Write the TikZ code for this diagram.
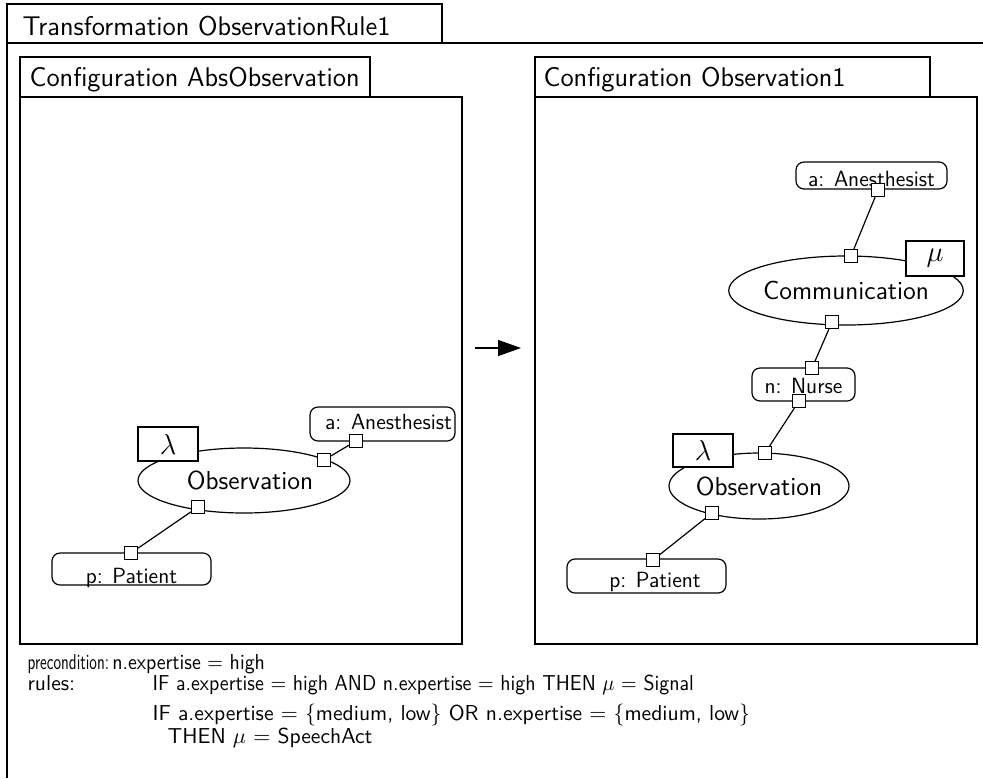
\documentclass[tikz,border=0pt]{standalone}
\usetikzlibrary{shapes.geometric,arrows.meta}
\renewcommand{\familydefault}{\sfdefault}
\begin{document}
\begin{tikzpicture}[x=0.5pt, y=-0.5pt, line width=0.6pt,
    frametitle/.style={anchor=base west, inner sep=0pt, font=\fontsize{13.5}{16}\selectfont},
    activity/.style={draw, ellipse, inner sep=0pt, fill=white, font=\fontsize{13}{15}\selectfont},
    role/.style={draw, rectangle, inner sep=0pt, fill=white, font=\fontsize{14}{16}\selectfont},
    instance/.style={draw, rounded corners=4pt, inner sep=0pt, fill=white, text depth=0pt, font=\fontsize{11}{13}\selectfont},
    port/.style={draw, fill=white, inner sep=0pt, minimum size=6.5pt},
    ruletext/.style={anchor=base west, inner sep=0pt, font=\fontsize{10.8}{13}\selectfont}]
  \useasboundingbox (0,0) rectangle (983,778);

  % 变换外框
  \draw (7,778) -- (7,4) -- (442,4) -- (442,43);
  \draw (7,43) -- (983,43);
  \node[frametitle] (trtitle) at (22,35) {Transformation ObservationRule1};

  % 左配置 AbsObservation
  \draw (20,57) rectangle (370,97);
  \draw (20,97) rectangle (462,644);
  \node[frametitle] (abstitle) at (29,86) {Configuration AbsObservation};

  \node[activity, minimum width=106pt, minimum height=32.5pt] (obsA) at (244,480.5) {\hspace{6pt}Observation};
  \node[role, minimum width=30pt, minimum height=17pt] (lamA) at (168,444) {$\lambda$};
  \node[instance, minimum width=72.5pt, minimum height=17pt, text height=5pt] (anA) at (382.5,424) {\hspace{6pt}a: Anesthesist};
  \node[instance, minimum width=79.5pt, minimum height=16pt, text height=14pt] (patA) at (131.5,569) {p: Patient};

  \node[port] (obsAr) at (324,460) {};
  \node[port] (anAb) at (356,441) {};
  \node[port] (obsAb) at (198,507) {};
  \node[port] (patAt) at (131,553) {};
  \draw (obsAr) -- (anAb);
  \draw (obsAb) -- (patAt);

  % 右配置 Observation1
  \draw (535,57) rectangle (930,97);
  \draw (535,97) rectangle (977,644);
  \node[frametitle] (obstitle) at (543,86) {Configuration Observation1};

  \node[activity, minimum width=111pt, minimum height=34.5pt] (com) at (846,290.5) {Communication};
  \node[role, minimum width=29pt, minimum height=17.5pt] (mu) at (935,258.5) {$\mu$\hspace{10.5pt}};
  \node[activity, minimum width=90pt, minimum height=33pt] (obsB) at (759,486) {Observation};
  \node[role, minimum width=30pt, minimum height=16.5pt] (lamB) at (703,450.5) {$\lambda$};
  \node[instance, minimum width=75.5pt, minimum height=13.5pt, text height=10.5pt] (anB) at (871.5,175.5) {a: Anesthesist};
  \node[instance, minimum width=51.5pt, minimum height=16.5pt, text height=8.5pt] (nur) at (803.5,384.5) {n: Nurse};
  \node[instance, minimum width=79.5pt, minimum height=17pt, text height=11pt] (patB) at (646.5,576) {\hspace{8.5pt}p: Patient};

  \node[port] (anBb) at (878,190) {};
  \node[port] (comt) at (851,256) {};
  \node[port] (comb) at (832,322) {};
  \node[port] (nurt) at (812,368) {};
  \node[port] (nurb) at (799,401) {};
  \node[port] (obsBt) at (765,453) {};
  \node[port] (obsBb) at (712,513) {};
  \node[port] (patBt) at (653,560) {};
  \draw (anBb) -- (comt);
  \draw (comb) -- (nurt);
  \draw (nurb) -- (obsBt);
  \draw (obsBb) -- (patBt);

  % 变换箭头
  \coordinate (arrtail) at (475,348);
  \coordinate (arrtip) at (521,348);
  \draw[-{Triangle[length=11.5pt,width=8pt]}] (arrtail) -- (arrtip);

  % 条件与规则
  \node[ruletext] (prelbl) at (27,669) {\scalebox{0.7}[1]{precondition:}};
  \node[ruletext, anchor=base west] (pretxt) at ([xshift=1pt]prelbl.base east) {\scalebox{0.92}[1]{n.expertise $=$ high}};
  \node[ruletext] (rulelbl) at (27,690) {rules:};
  \node[ruletext] (ruleone) at (152,690) {\scalebox{0.92}[1]{IF a.expertise $=$ high AND n.expertise $=$ high THEN $\mu$ $=$ Signal}};
  \node[ruletext] (ruletwo) at (152,720) {IF a.expertise $=$ $\{$medium, low$\}$ OR n.expertise $=$ $\{$medium, low$\}$};
  \node[ruletext] (rulethree) at (167,743) {THEN $\mu$ $=$ SpeechAct};
\end{tikzpicture}
\end{document}
